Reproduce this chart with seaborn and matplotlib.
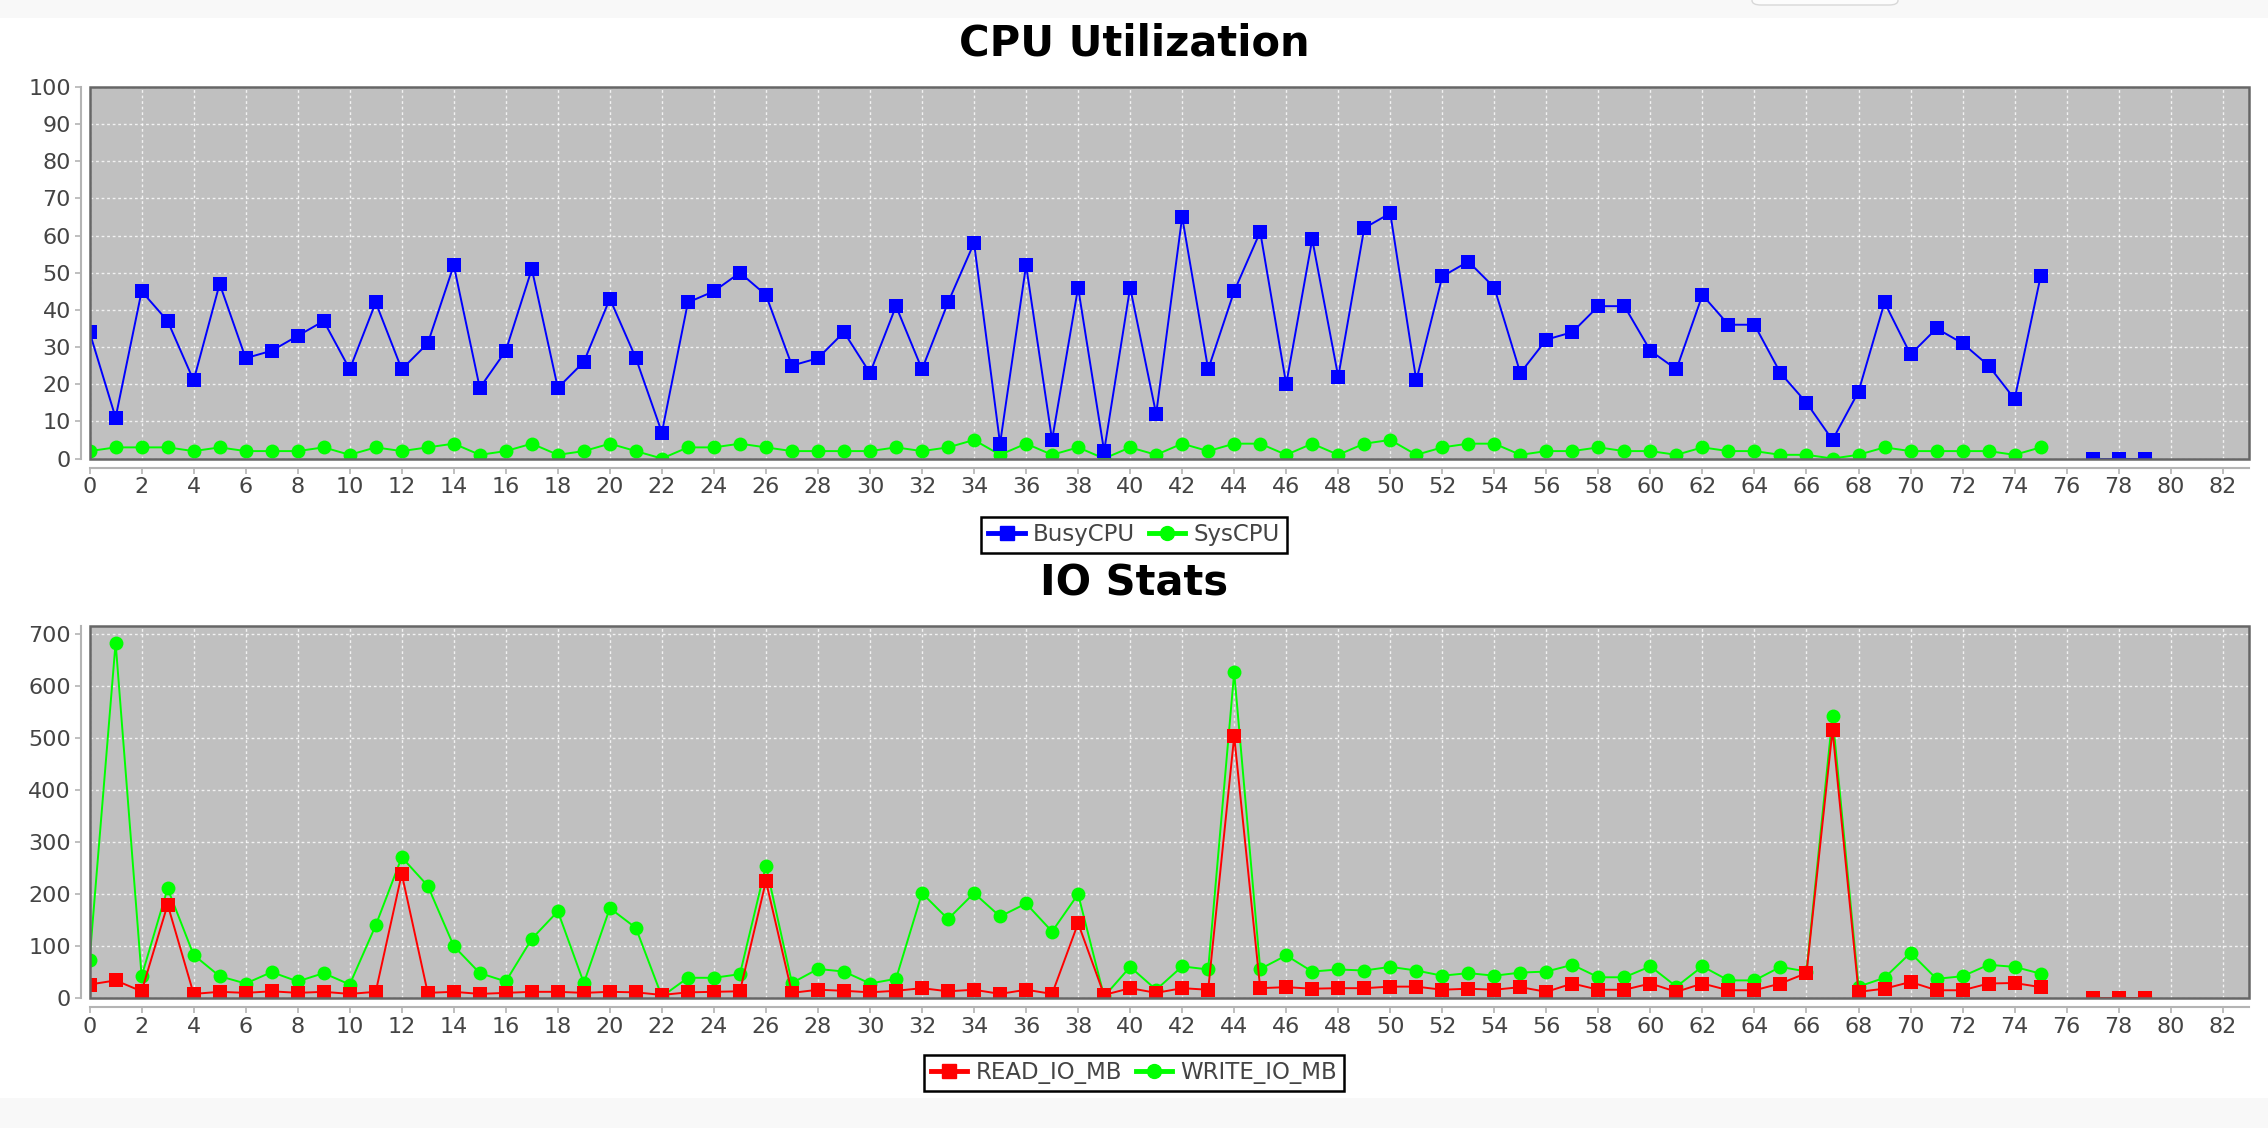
import matplotlib
matplotlib.use("Agg")
import matplotlib.pyplot as plt
import pandas as pd
import seaborn as sns
from matplotlib.lines import Line2D
from matplotlib.patches import Rectangle, FancyBboxPatch

# sample index: 0..75, then a gap at 76, then 77..79
samples = list(range(76)) + [77, 78, 79]

busy_cpu = [34, 11, 45, 37, 21, 47, 27, 29, 33, 37, 24, 42, 24, 31, 52, 19, 29, 51, 19, 26,
            43, 27, 7, 42, 45, 50, 44, 25, 27, 34, 23, 41, 24, 42, 58, 4, 52, 5, 46, 2,
            46, 12, 65, 24, 45, 61, 20, 59, 22, 62, 66, 21, 49, 53, 46, 23, 32, 34, 41, 41,
            29, 24, 44, 36, 36, 23, 15, 5, 18, 42, 28, 35, 31, 25, 16, 49,
            0, 0, 0]
sys_cpu = [2, 3, 3, 3, 2, 3, 2, 2, 2, 3, 1, 3, 2, 3, 4, 1, 2, 4, 1, 2,
           4, 2, 0, 3, 3, 4, 3, 2, 2, 2, 2, 3, 2, 3, 5, 1, 4, 1, 3, 0,
           3, 1, 4, 2, 4, 4, 1, 4, 1, 4, 5, 1, 3, 4, 4, 1, 2, 2, 3, 2,
           2, 1, 3, 2, 2, 1, 1, 0, 1, 3, 2, 2, 2, 2, 1, 3,
           0, 0, 0]

read_io = [26, 34, 13, 180, 8, 12, 10, 13, 10, 12, 8, 12, 239, 10, 12, 8, 10, 12, 12, 10,
           12, 11, 6, 11, 12, 13, 225, 10, 16, 14, 11, 14, 19, 13, 16, 8, 16, 8, 144, 6,
           19, 10, 19, 16, 504, 19, 21, 18, 19, 19, 22, 22, 16, 18, 16, 21, 12, 28, 16, 16,
           28, 12, 28, 15, 15, 28, 48, 516, 12, 18, 31, 15, 15, 28, 29, 21,
           0, 0, 0]
write_io = [74, 684, 42, 211, 83, 42, 28, 50, 32, 48, 26, 140, 271, 216, 100, 48, 32, 114, 167, 29,
            173, 135, 3, 39, 39, 46, 255, 29, 56, 51, 28, 37, 202, 152, 202, 157, 182, 128, 200, 3,
            60, 16, 61, 55, 627, 56, 82, 51, 55, 53, 60, 53, 43, 48, 43, 49, 51, 64, 40, 40,
            61, 22, 61, 34, 34, 60, 51, 543, 22, 39, 87, 37, 42, 64, 60, 47,
            0, 0, 0]


def to_frame(values):
    df = pd.DataFrame({"sample": samples, "value": values})
    df["seg"] = (df["sample"] > 76).astype(int)  # break the line at the missing sample
    return df


def style_axes(ax, ymax, ytop, ystep):
    ax.set_facecolor("#c0c0c0")
    ax.set_xlim(0, 83)
    ax.set_ylim(0, ymax)
    ax.set_xticks(range(0, 83, 2))
    ax.set_yticks(range(0, ytop + 1, ystep))
    ax.grid(True, color="white", linestyle=(0, (2, 2)), linewidth=1.0, alpha=0.8)
    ax.set_axisbelow(True)
    for s in ["top", "right"]:
        ax.spines[s].set_visible(False)
    for s in ["left", "bottom"]:
        ax.spines[s].set_position(("outward", 6.5))
        ax.spines[s].set_color("#b4b4b4")
        ax.spines[s].set_linewidth(1.5)
    ax.add_patch(Rectangle((0, 0), 1, 1, transform=ax.transAxes, fill=False,
                           edgecolor="#666666", lw=1.8, zorder=5, clip_on=False))
    ax.tick_params(colors="#b4b4b4", labelcolor="#444444", labelsize=16,
                   length=4, width=1.2, pad=3)
    ax.set_xlabel("")
    ax.set_ylabel("")


fig = plt.figure(figsize=(22.68, 11.28), dpi=100)
fig.patch.set_facecolor("white")
# light strips at the top and bottom of the window
fig.add_artist(Rectangle((0, 1 - 18 / 1128), 1, 18 / 1128, transform=fig.transFigure,
                         facecolor="#f8f8f8", edgecolor="none"))
fig.add_artist(Rectangle((0, 0), 1, 30 / 1128, transform=fig.transFigure,
                         facecolor="#f8f8f8", edgecolor="none"))
fig.add_artist(FancyBboxPatch((1752 / 2268, 1 - 5 / 1128), 146 / 2268, 12 / 1128,
                              boxstyle="round,pad=0,rounding_size=0.004",
                              transform=fig.transFigure, facecolor="#fcfcfc",
                              edgecolor="#d8d8d8", lw=1))

ax1 = fig.add_axes([0.0395, 0.5935, 0.952, 0.3295])
ax2 = fig.add_axes([0.0395, 0.1152, 0.952, 0.3298])

line_kw = dict(linewidth=1.4, markersize=10, markeredgewidth=0, estimator=None,
               units="seg", legend=False)

# first series is drawn on top, like the source chart
sns.lineplot(data=to_frame(sys_cpu), x="sample", y="value", ax=ax1,
             color="#00ff00", marker="o", **line_kw)
sns.lineplot(data=to_frame(busy_cpu), x="sample", y="value", ax=ax1,
             color="#0000ff", marker="s", **line_kw)
style_axes(ax1, 100, 100, 10)

sns.lineplot(data=to_frame(write_io), x="sample", y="value", ax=ax2,
             color="#00ff00", marker="o", **line_kw)
sns.lineplot(data=to_frame(read_io), x="sample", y="value", ax=ax2,
             color="#ff0000", marker="s", **line_kw)
style_axes(ax2, 716, 700, 100)

fig.text(0.5, 1 - 44 / 1128, "CPU Utilization", ha="center", va="center",
         fontsize=30, fontweight="bold", color="black")
fig.text(0.5, 1 - 584 / 1128, "IO Stats", ha="center", va="center",
         fontsize=30, fontweight="bold", color="black")


def make_handle(color, marker):
    return Line2D([], [], color=color, alpha=0.55, lw=3.5, marker=marker,
                  markerfacecolor=color, markeredgecolor=color, markersize=10)


def add_legend(handles, labels, y):
    leg = fig.legend(handles, labels, loc="center", bbox_to_anchor=(0.5, y), ncol=2,
                     frameon=True, fancybox=False, edgecolor="black", framealpha=1,
                     fontsize=16.5, handlelength=1.6, columnspacing=0.6,
                     handletextpad=0.35, borderpad=0.3, borderaxespad=0)
    leg.get_frame().set_linewidth(1.8)
    for t in leg.get_texts():
        t.set_color("#444444")
    for h in leg.legend_handles:
        h.set_markerfacecolor(h.get_color())
        h.set_alpha(None)
    return leg


add_legend([make_handle("#0000ff", "s"), make_handle("#00ff00", "o")],
           ["BusyCPU", "SysCPU"], 1 - 535 / 1128)
add_legend([make_handle("#ff0000", "s"), make_handle("#00ff00", "o")],
           ["READ_IO_MB", "WRITE_IO_MB"], 1 - 1073 / 1128)

fig.savefig("out.png", dpi=100)
